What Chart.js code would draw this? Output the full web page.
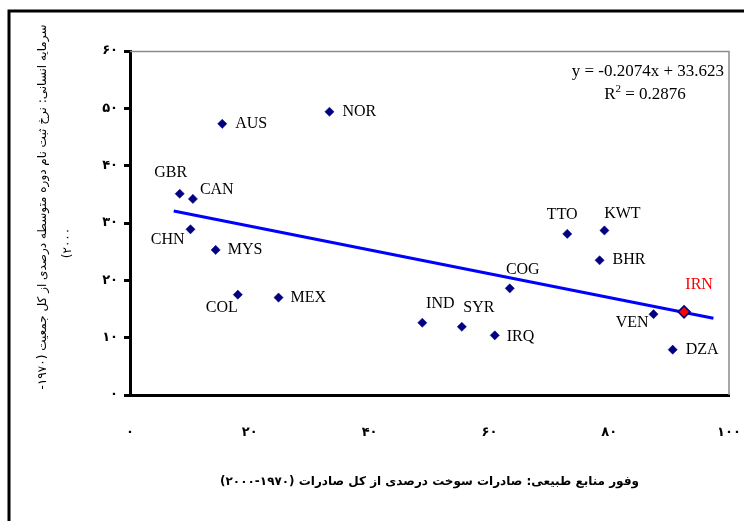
<!DOCTYPE html>
<html>
<head>
<meta charset="utf-8">
<script src="https://cdn.jsdelivr.net/npm/chart.js@4/dist/chart.umd.min.js"></script>
<style>
  body { margin: 0; background: #fff; }
  #wrap { width: 744px; height: 521px; position: relative; }
</style>
</head>
<body>
<div id="wrap"><canvas id="chart"></canvas></div>
<script>
// --- data ---
const countries = ['GBR', 'CAN', 'CHN', 'MYS', 'COL', 'MEX', 'AUS', 'NOR', 'IND', 'SYR', 'IRQ', 'COG', 'TTO', 'KWT', 'BHR', 'VEN', 'IRN', 'DZA'];
const fuelExports = [8.3, 10.5, 10.1, 14.3, 18.0, 24.8, 15.4, 33.3, 48.8, 55.4, 60.9, 63.4, 73.0, 79.2, 78.4, 87.4, 92.5, 90.6];
const enrollment = [35.1, 34.2, 28.9, 25.3, 17.5, 17.0, 47.3, 49.4, 12.6, 11.9, 10.4, 18.6, 28.1, 28.7, 23.5, 14.1, 14.5, 7.9];
const trendX = [7.3, 97.4];
const trendY = [32.1, 13.4];
const equationText = 'y = -0.2074x + 33.623';
const r2Text = ' = 0.2876';
const xTitle = 'وفور منابع طبیعی: صادرات سوخت درصدی از کل صادرات (۱۹۷۰-۲۰۰۰)';
const yTitle = ['سرمایه انسانی: نرخ ثبت نام دوره متوسطه درصدی از کل جمعیت (۱۹۷۰-', '۲۰۰۰)'];

const NAVY = '#000080';
const persianDigits = '۰۱۲۳۴۵۶۷۸۹';
const toPersian = (v) => String(v).replace(/\d/g, d => persianDigits[d]);

// label placement around each marker (dx, dy in px, text alignment)
const labelPlacement = {
    GBR: [-9, -21, 'center'], CAN: [7, -9, 'left'], CHN: [-6, 10, 'right'],
    MYS: [12, 0, 'left'], COL: [-16, 13, 'center'], MEX: [12, 0, 'left'],
    AUS: [13, 0, 'left'], NOR: [13, 0, 'left'], IND: [18, -19, 'center'],
    SYR: [17, -19, 'center'], IRQ: [12, 1, 'left'], COG: [13, -19, 'center'],
    TTO: [-5, -19, 'center'], KWT: [18, -17, 'center'], BHR: [13, 0, 'left'],
    VEN: [-5, 9, 'right'], IRN: [15, -27, 'center'], DZA: [13, 0, 'left']
};

const decorations = {
    id: 'decorations',
    beforeDraw(chart) {
        // persian axis texts need right-to-left ordering
        chart.ctx.direction = 'rtl';
    },
    beforeDatasetsDraw(chart) {
        const { ctx, chartArea: a } = chart;
        ctx.save();
        // grey plot border top + right
        ctx.strokeStyle = '#8a8a8a';
        ctx.lineWidth = 1.5;
        ctx.beginPath();
        ctx.moveTo(a.left, a.top + 0.5);
        ctx.lineTo(a.right, a.top + 0.5);
        ctx.lineTo(a.right, a.bottom);
        ctx.stroke();
        ctx.restore();
    },
    afterDraw(chart) {
        const { ctx, chartArea: a } = chart;
        const meta = chart.getDatasetMeta(0);
        ctx.save();

        // y axis title, two rotated lines
        ctx.direction = 'rtl';
        ctx.fillStyle = '#000';
        ctx.font = '12px "DejaVu Sans"';
        ctx.textAlign = 'center';
        ctx.textBaseline = 'middle';
        [[43, 207], [68, 243]].forEach(([tx, ty], i) => {
            ctx.save();
            ctx.translate(tx, ty);
            ctx.rotate(-Math.PI / 2);
            ctx.fillText(yTitle[i], 0, 0);
            ctx.restore();
        });

        ctx.direction = 'ltr';
        // country labels
        ctx.font = '16px "Liberation Serif", "Times New Roman", serif';
        meta.data.forEach((pt, i) => {
            const name = countries[i];
            const [dx, dy, align] = labelPlacement[name];
            ctx.fillStyle = name === 'IRN' ? '#ff0000' : '#000';
            ctx.textAlign = align;
            ctx.fillText(name, pt.x + dx, pt.y + dy);
        });

        // regression equation
        ctx.fillStyle = '#000';
        ctx.font = '17px "Liberation Serif", "Times New Roman", serif';
        ctx.textAlign = 'right';
        ctx.fillText(equationText, a.right - 5, a.top + 21);
        const rW = ctx.measureText('R').width;
        const restW = ctx.measureText(r2Text).width;
        ctx.font = '11px "Liberation Serif", "Times New Roman", serif';
        const supW = ctx.measureText('2').width;
        const startX = a.right - 84 - (rW + supW + restW) / 2;
        ctx.textAlign = 'left';
        ctx.fillText('2', startX + rW, a.top + 38);
        ctx.font = '17px "Liberation Serif", "Times New Roman", serif';
        ctx.fillText('R', startX, a.top + 44);
        ctx.fillText(r2Text, startX + rW + supW, a.top + 44);

        // outer frame
        ctx.strokeStyle = '#000';
        ctx.lineWidth = 3;
        ctx.beginPath();
        ctx.moveTo(9, chart.height + 5);
        ctx.lineTo(9, 11);
        ctx.lineTo(chart.width + 5, 11);
        ctx.stroke();
        ctx.restore();
    }
};

new Chart(document.getElementById('chart'), {
    type: 'scatter',
    data: {
        datasets: [
            {
                label: 'countries',
                data: fuelExports.map((x, i) => ({ x, y: enrollment[i] })),
                pointStyle: 'rectRot',
                pointRadius: (c) => countries[c.dataIndex] === 'IRN' ? 6 : 4.6,
                pointBackgroundColor: (c) => countries[c.dataIndex] === 'IRN' ? '#ff0000' : NAVY,
                pointBorderColor: NAVY,
                pointBorderWidth: (c) => countries[c.dataIndex] === 'IRN' ? 1.5 : 0.5,
                order: 0
            },
            {
                type: 'line',
                label: 'trend',
                data: trendX.map((x, i) => ({ x, y: trendY[i] })),
                borderColor: '#0000ff',
                borderWidth: 3,
                pointRadius: 0,
                fill: false,
                order: 1
            }
        ]
    },
    options: {
        responsive: true,
        maintainAspectRatio: false,
        animation: false,
        layout: { padding: { left: 0, right: 15, top: 51, bottom: 0 } },
        plugins: { legend: { display: false }, tooltip: { enabled: false } },
        scales: {
            x: {
                type: 'linear',
                min: 0, max: 100,
                afterFit: (s) => { s.height = 126; s.paddingLeft = 0; s.paddingRight = 0; },
                grid: { display: false, drawTicks: false },
                border: { display: true, color: '#000', width: 3 },
                ticks: {
                    stepSize: 20, padding: 30, maxRotation: 0, color: '#000',
                    font: { family: '"DejaVu Sans"', size: 13, weight: 'bold' },
                    callback: (v) => toPersian(v)
                },
                title: {
                    display: true, text: xTitle, color: '#000',
                    font: { family: '"DejaVu Sans"', size: 12, weight: 'bold' },
                    padding: { top: 0, bottom: 32 }
                }
            },
            y: {
                type: 'linear',
                min: 0, max: 60,
                afterFit: (s) => { s.width = 130; s.paddingTop = 0; s.paddingBottom = 0; },
                grid: { drawOnChartArea: false, drawTicks: true, tickLength: 6, tickWidth: 3, tickColor: '#000' },
                border: { display: true, color: '#000', width: 3 },
                ticks: {
                    stepSize: 10, padding: 6, color: '#000',
                    font: { family: '"DejaVu Sans"', size: 13, weight: 'bold' },
                    callback: (v) => toPersian(v)
                }
            }
        }
    },
    plugins: [decorations]
});
</script>
</body>
</html>
